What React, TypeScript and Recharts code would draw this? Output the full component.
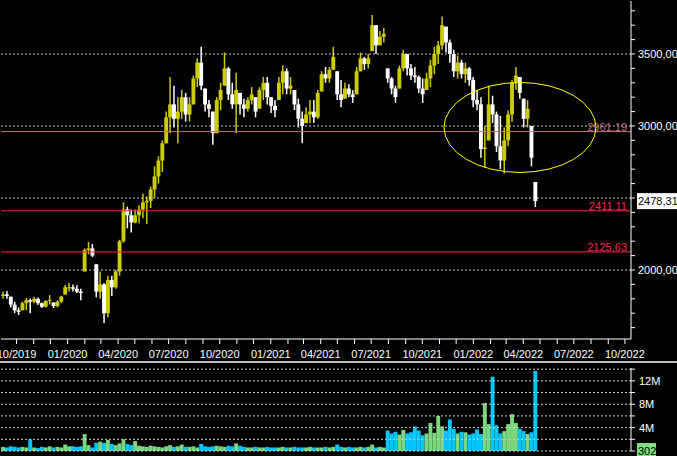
import React from 'react'
import {
  ComposedChart,
  Bar,
  Cell,
  XAxis,
  YAxis,
  ReferenceLine,
  ReferenceDot,
} from 'recharts'

// weekly bars (price)
const highs = [
  1850, 1855, 1815, 1780, 1740, 1780, 1806, 1800, 1815, 1810,
  1775, 1790, 1826, 1775, 1790, 1820, 1896, 1910, 1900, 1895,
  1870, 2150, 2195, 2180, 2040, 1990, 1910, 1960, 1960, 2000,
  2210, 2470, 2440, 2420, 2420, 2450, 2530, 2510, 2580, 2720,
  2790, 2900, 3100, 3340, 3280, 3200, 3250, 3230, 3200, 3350,
  3470, 3550, 3260, 3180, 3100, 3200, 3300, 3510, 3410, 3300,
  3370, 3230, 3190, 3200, 3270, 3200, 3270, 3340, 3340, 3200,
  3180, 3340, 3420, 3400, 3340, 3250, 3190, 3100, 3130, 3180,
  3180, 3250, 3380, 3410, 3410, 3550, 3380, 3320, 3300, 3290,
  3250, 3410, 3510, 3480, 3500, 3770, 3700, 3660, 3680, 3400,
  3340, 3280, 3420, 3530, 3500, 3430, 3410, 3350, 3330, 3370,
  3460, 3550, 3590, 3760, 3690, 3600, 3530, 3490, 3460, 3440,
  3410, 3340, 3250, 3200, 3000, 3280, 3210, 3100, 3070, 2990,
  3110, 3320, 3410, 3340, 3190, 3180, 3000, 2611,
]
const lows = [
  1800, 1800, 1740, 1700, 1688, 1720, 1722, 1700, 1770, 1757,
  1736, 1740, 1760, 1736, 1740, 1770, 1830, 1850, 1850, 1840,
  1790, 1990, 2110, 2090, 1810, 1800, 1632, 1670, 1820, 1870,
  1960, 2190, 2290, 2260, 2325, 2325, 2360, 2320, 2430, 2500,
  2600, 2680, 2880, 2950, 2990, 2880, 3050, 3030, 3030, 3150,
  3270, 3250, 3100, 3060, 2870, 2950, 3110, 3280, 3180, 3120,
  2950, 3080, 3060, 3100, 3150, 3060, 3120, 3180, 3150, 3090,
  3060, 3180, 3220, 3220, 3220, 3110, 2990, 2880, 3020, 3020,
  3020, 3050, 3240, 3300, 3300, 3390, 3180, 3130, 3190, 3200,
  3160, 3220, 3380, 3390, 3400, 3520, 3500, 3560, 3580, 3300,
  3220, 3160, 3260, 3380, 3350, 3320, 3300, 3230, 3160, 3250,
  3270, 3360, 3430, 3530, 3510, 3440, 3340, 3330, 3330, 3300,
  3280, 3130, 3110, 2780, 2710, 2900, 3020, 2820, 2700, 2670,
  2860, 3030, 3250, 3190, 2990, 2990, 2720, 2437,
]
const closes = [
  1830, 1820, 1760, 1720, 1710, 1770, 1790, 1780, 1800, 1770,
  1745, 1785, 1790, 1750, 1780, 1815, 1880, 1880, 1870, 1850,
  1840, 2140, 2150, 2100, 1850, 1900, 1700, 1930, 1880, 1990,
  2200, 2420, 2380, 2330, 2380, 2420, 2470, 2480, 2560, 2650,
  2760, 2880, 3060, 3150, 3050, 3100, 3200, 3080, 3150, 3330,
  3440, 3280, 3150, 3120, 2950, 3180, 3250, 3400, 3220, 3150,
  3250, 3150, 3120, 3180, 3220, 3100, 3250, 3300, 3200, 3140,
  3110, 3300, 3380, 3260, 3280, 3150, 3050, 3000, 3080, 3100,
  3060, 3230, 3360, 3330, 3390, 3480, 3220, 3180, 3260, 3220,
  3200, 3380, 3470, 3430, 3470, 3700, 3560, 3620, 3640, 3330,
  3260, 3200, 3400, 3500, 3400, 3350, 3340, 3260, 3220, 3330,
  3420, 3500, 3560, 3700, 3580, 3500, 3380, 3440, 3360, 3400,
  3320, 3180, 3150, 2840, 2850, 3150, 3080, 2860, 2760, 2900,
  3080, 3300, 3350, 3230, 3050, 3120, 2780, 2478.31,
]
// volume in millions, one per weekly bar
const volumesM = [
  0.7, 0.6, 0.8, 0.7, 0.6, 0.7, 0.6, 2.0, 0.6, 0.5,
  0.7, 0.6, 0.8, 0.6, 0.7, 0.6, 1.1, 0.8, 0.8, 0.7,
  0.8, 2.9, 1.0, 0.6, 1.4, 1.6, 1.4, 1.9, 1.2, 1.0,
  1.3, 2.0, 1.2, 1.0, 1.7, 0.9, 0.8, 0.7, 0.9, 0.8,
  0.7, 0.6, 0.8, 1.0, 0.7, 0.8, 1.1, 0.7, 0.7, 0.8,
  0.6, 1.2, 0.8, 0.7, 0.8, 0.9, 0.8, 0.7, 0.9, 0.8,
  1.3, 0.9, 0.7, 0.6, 0.6, 0.7, 0.6, 0.6, 0.7, 0.6,
  0.6, 0.6, 0.7, 0.6, 0.6, 0.7, 0.6, 0.6, 0.6, 0.7,
  0.6, 0.6, 0.6, 0.7, 0.6, 0.7, 1.1, 0.7, 0.6, 0.7,
  0.6, 0.6, 0.7, 0.6, 0.7, 1.1, 0.6, 0.7, 0.6, 3.5,
  3.0, 3.3, 2.8, 3.6, 3.0, 3.2, 4.2, 3.5, 2.7, 3.0,
  4.8, 3.1, 6.0, 4.2, 3.5, 5.4, 3.8, 3.0, 3.3, 3.2,
  2.8, 3.0, 3.7, 2.9, 8.2, 4.6, 12.7, 4.4, 3.0, 3.4,
  4.6, 6.3, 4.8, 3.8, 3.4, 2.9, 3.2, 13.7,
]
const FIRST_OPEN = 1820
const FIRST_DAY = -24 // days after 01/10/2019 of the first weekly bar

const quarterLabels = [
  '10/2019', '01/2020', '04/2020', '07/2020', '10/2020', '01/2021', '04/2021',
  '07/2021', '10/2021', '01/2022', '04/2022', '07/2022', '10/2022',
]
const priceTicks = [
  1600, 1700, 1800, 1900, 2000, 2100, 2200, 2300, 2400, 2500, 2600, 2700,
  2800, 2900, 3000, 3100, 3200, 3300, 3400, 3500, 3600, 3700, 3800,
]
const priceLabels = [2000, 3000, 3500]
const gridLevels = [2000, 2500, 3000, 3500]
const levelValues = [2961.19, 2411.11, 2125.63]
const lastClose = 2478.31
const volumeTag = '302'
const volumeTicks = [0, 2e6, 4e6, 6e6, 8e6, 10e6, 12e6, 14e6]
const volumeLabels = [4e6, 8e6, 12e6]
const zoneCentre = { day: 907, price: 2990 }

const YELLOW = '#cccc00'
const WHITE = '#ffffff'
const GRID = '#d0d0d0'
const UP_VOL = '#7cd87c'
const DOWN_VOL = '#00c8ff'
const levelColors = ['#c87080', '#ff2050', '#ff2050']
const BAR_W = 3.9

const DAY_MS = 86400000
const ORIGIN = Date.UTC(2019, 9, 1)
const monthTicks = Array.from({ length: 37 }, (_, m) =>
  Math.round((Date.UTC(2019, 9 + m, 1) - ORIGIN) / DAY_MS)
)
const X_DOMAIN = [-28, 1107]

const candles = highs.map((high, i) => {
  const open = i === 0 ? FIRST_OPEN : closes[i - 1]
  return {
    day: FIRST_DAY + 7 * i,
    high,
    low: lows[i],
    open,
    close: closes[i],
    range: [lows[i], high],
    vol: volumesM[i] * 1e6,
    up: closes[i] >= open,
  }
})

const fmtMonth = (v: number) => {
  const i = monthTicks.indexOf(v)
  return i % 3 === 0 ? quarterLabels[i / 3] : ''
}
const fmtPrice = (v: number) =>
  priceLabels.includes(v) ? v.toFixed(2).replace('.', ',') : ''
const fmtVolume = (v: number) => (volumeLabels.includes(v) ? `${v / 1e6}M` : '')

const Candle = (props: any) => {
  const { x, y, width, height, payload } = props
  if (x == null || y == null) return null
  const top = Math.min(y, y + height)
  const h = Math.abs(height)
  const { high, low, open, close, up } = payload
  const span = high - low || 1
  const at = (v: number) => top + ((high - v) / span) * h
  const bodyTop = at(Math.min(Math.max(open, close), high))
  const bodyBottom = at(Math.max(Math.min(open, close), low))
  const color = up ? YELLOW : WHITE
  const cx = x + width / 2
  return (
    <g>
      <line x1={cx} x2={cx} y1={top} y2={top + h} stroke={color} strokeWidth={1.5} />
      <rect
        x={cx - BAR_W / 2}
        y={bodyTop}
        width={BAR_W}
        height={Math.max(bodyBottom - bodyTop, 1)}
        fill={color}
      />
    </g>
  )
}

const VolumeBar = (props: any) => {
  const { x, y, width, height, payload } = props
  if (x == null || y == null) return null
  const cx = x + width / 2
  return (
    <rect
      x={cx - BAR_W / 2}
      y={Math.min(y, y + height)}
      width={BAR_W}
      height={Math.abs(height)}
      fill={payload.up ? UP_VOL : DOWN_VOL}
    />
  )
}

const levelLabel = (text: string, color: string) => (props: any) => {
  const { x, y, width } = props.viewBox
  return (
    <text x={x + width - 4} y={y - 1} textAnchor='end' fill={color} fontSize={11}>
      {text}
    </text>
  )
}

const tagLabel = (text: string, bg: string, w: number) => (props: any) => {
  const { x, y, width } = props.viewBox
  return (
    <g>
      <rect x={x + width + 6} y={y - 8} width={w} height={16} fill={bg} />
      <text x={x + width + 7} y={y + 4} fill='#000' fontSize={11}>
        {text}
      </text>
    </g>
  )
}

const Zone = ({ cx, cy }: any) => (
  <ellipse cx={cx} cy={cy} rx={76} ry={45} fill='none' stroke='#ffff00' strokeWidth={1} />
)

const axisStyle = { stroke: '#fff' }
const tickStyle = { fill: '#fff', fontSize: 11 }

const App = () => {
  return (
    <div
      style={{
        position: 'fixed',
        left: 0,
        top: 0,
        width: 677,
        height: 456,
        background: '#000',
        overflow: 'hidden',
        fontFamily: '"Liberation Sans", Arial, sans-serif',
      }}
    >
      <ComposedChart
        width={677}
        height={362}
        data={candles}
        margin={{ top: 1, right: 0, bottom: 0, left: 1 }}
      >
        <XAxis
          type='number'
          dataKey='day'
          domain={X_DOMAIN}
          ticks={monthTicks}
          interval={0}
          tickFormatter={fmtMonth}
          axisLine={axisStyle}
          tickLine={axisStyle}
          tick={tickStyle}
          tickSize={5}
          tickMargin={6}
          height={23}
          allowDataOverflow
        />
        <XAxis
          xAxisId='top'
          orientation='top'
          type='number'
          dataKey='day'
          domain={X_DOMAIN}
          height={0}
          tick={false}
          tickLine={false}
          axisLine={axisStyle}
        />
        <YAxis
          yAxisId='frame'
          orientation='left'
          type='number'
          domain={[0, 1]}
          width={0}
          tick={false}
          tickLine={false}
          axisLine={axisStyle}
        />
        <YAxis
          yAxisId='p'
          orientation='right'
          type='number'
          domain={[1521, 3868]}
          ticks={priceTicks}
          interval={0}
          tickFormatter={fmtPrice}
          axisLine={axisStyle}
          tickLine={axisStyle}
          tick={tickStyle}
          tickSize={4}
          tickMargin={3}
          width={46}
          allowDataOverflow
        />
        {gridLevels.map((v) => (
          <ReferenceLine
            key={`g${v}`}
            yAxisId='p'
            y={v}
            stroke={GRID}
            strokeDasharray='2 2'
          />
        ))}
        <Bar
          yAxisId='p'
          dataKey='range'
          barSize={4}
          shape={<Candle />}
          isAnimationActive={false}
        />
        {levelValues.map((v, i) => (
          <ReferenceLine
            key={`l${v}`}
            yAxisId='p'
            y={v}
            stroke={levelColors[i]}
            label={levelLabel(v.toFixed(2), levelColors[i])}
          />
        ))}
        <ReferenceLine
          yAxisId='p'
          y={lastClose}
          stroke='none'
          label={tagLabel(lastClose.toFixed(2).replace('.', ','), '#fff', 40)}
        />
        <ReferenceDot
          yAxisId='p'
          x={zoneCentre.day}
          y={zoneCentre.price}
          shape={(p: any) => <Zone {...p} />}
        />
      </ComposedChart>
      <div
        style={{
          position: 'absolute',
          left: 0,
          top: 361,
          width: 677,
          height: 2,
          background: '#c0c0c0',
        }}
      />
      <div style={{ position: 'absolute', left: 0, top: 362 }}>
        <ComposedChart
          width={677}
          height={94}
          data={candles}
          margin={{ top: 6, right: 0, bottom: 5, left: 1 }}
        >
          <XAxis type='number' dataKey='day' domain={X_DOMAIN} hide allowDataOverflow />
          <XAxis
            xAxisId='top'
            orientation='top'
            type='number'
            dataKey='day'
            domain={X_DOMAIN}
            height={0}
            tick={false}
            tickLine={false}
            axisLine={axisStyle}
          />
          <YAxis
            yAxisId='frame'
            orientation='left'
            type='number'
            domain={[0, 1]}
            width={0}
            tick={false}
            tickLine={false}
            axisLine={axisStyle}
          />
          <YAxis
            yAxisId='v'
            orientation='right'
            type='number'
            domain={[0, 14.2e6]}
            ticks={volumeTicks}
            interval={0}
            tickFormatter={fmtVolume}
            axisLine={axisStyle}
            tickLine={axisStyle}
            tick={tickStyle}
            tickSize={4}
            tickMargin={4}
            width={46}
            allowDataOverflow
          />
          {volumeTicks.map((v) => (
            <ReferenceLine
              key={`vg${v}`}
              yAxisId='v'
              y={v}
              stroke={GRID}
              strokeDasharray='2 2'
            />
          ))}
          <Bar
            yAxisId='v'
            dataKey='vol'
            barSize={4}
            shape={<VolumeBar />}
            isAnimationActive={false}
          >
            {candles.map((c, i) => (
              <Cell key={i} fill={c.up ? UP_VOL : DOWN_VOL} />
            ))}
          </Bar>
          <ReferenceLine
            yAxisId='v'
            y={0}
            stroke='none'
            label={tagLabel(volumeTag, '#80e080', 19)}
          />
        </ComposedChart>
      </div>
    </div>
  )
}

export default App
